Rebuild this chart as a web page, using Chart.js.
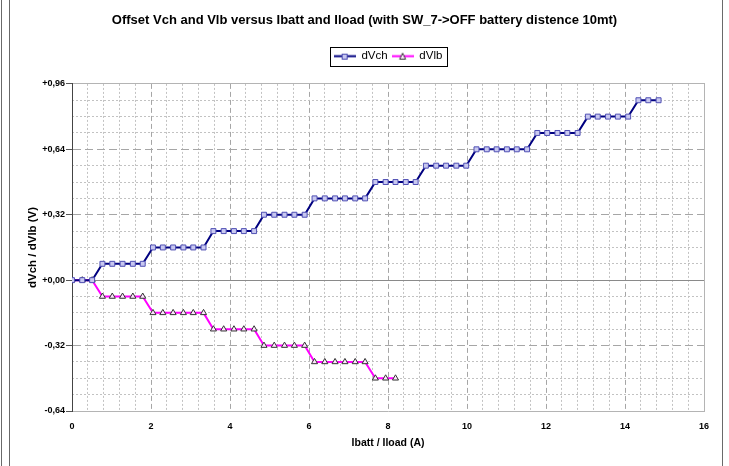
<!DOCTYPE html>
<html>
<head>
<meta charset="utf-8">
<script src="https://cdn.jsdelivr.net/npm/chart.js@4.4.1/dist/chart.umd.min.js"></script>
<style>
html,body{margin:0;padding:0;background:#fff;}
#wrap{position:relative;width:729px;height:466px;overflow:hidden;}
canvas{display:block;}
.vl{position:absolute;top:0;height:466px;width:1px;background:#6a6a6a;}
</style>
</head>
<body>
<div id="wrap">
<canvas id="c" width="729" height="466"></canvas>
<div class="vl" style="left:1px"></div>
<div class="vl" style="left:9px"></div>
<div class="vl" style="left:722px"></div>
</div>
<script>
// ---- data ----
const chartTitle = 'Offset Vch and Vlb versus Ibatt and Iload (with SW_7->OFF battery distence 10mt)';
const xTitle = 'Ibatt / Iload (A)';
const yTitle = 'dVch / dVlb (V)';
const seriesNames = ['dVch', 'dVlb'];

const currents = [
  0.00, 0.26, 0.51, 0.77, 1.02, 1.28, 1.54, 1.79, 2.05, 2.30,
  2.56, 2.82, 3.07, 3.33, 3.58, 3.84, 4.10, 4.35, 4.61, 4.86,
  5.12, 5.38, 5.63, 5.89, 6.14, 6.40, 6.66, 6.91, 7.17, 7.42,
  7.68, 7.94, 8.19, 8.45, 8.70, 8.96, 9.22, 9.47, 9.73, 9.98,
  10.24, 10.50, 10.75, 11.01, 11.26, 11.52, 11.78, 12.03, 12.29, 12.54,
  12.80, 13.06, 13.31, 13.57, 13.82, 14.08, 14.34, 14.59, 14.85
];
const dVch = [
  0.00, 0.00, 0.00, 0.08, 0.08, 0.08, 0.08, 0.08, 0.16, 0.16,
  0.16, 0.16, 0.16, 0.16, 0.24, 0.24, 0.24, 0.24, 0.24, 0.32,
  0.32, 0.32, 0.32, 0.32, 0.40, 0.40, 0.40, 0.40, 0.40, 0.40,
  0.48, 0.48, 0.48, 0.48, 0.48, 0.56, 0.56, 0.56, 0.56, 0.56,
  0.64, 0.64, 0.64, 0.64, 0.64, 0.64, 0.72, 0.72, 0.72, 0.72,
  0.72, 0.80, 0.80, 0.80, 0.80, 0.80, 0.88, 0.88, 0.88
];
const dVlb = [
  0.00, 0.00, 0.00, -0.08, -0.08, -0.08, -0.08, -0.08, -0.16, -0.16,
  -0.16, -0.16, -0.16, -0.16, -0.24, -0.24, -0.24, -0.24, -0.24, -0.32,
  -0.32, -0.32, -0.32, -0.32, -0.40, -0.40, -0.40, -0.40, -0.40, -0.40,
  -0.48, -0.48, -0.48
];
const xTickValues = [0, 2, 4, 6, 8, 10, 12, 14, 16];
const xTickLabels = ['0', '2', '4', '6', '8', '10', '12', '14', '16'];
const yTickValues = [-0.64, -0.32, 0, 0.32, 0.64, 0.96];
const yTickLabels = ['-0,64', '-0,32', '+0,00', '+0,32', '+0,64', '+0,96'];
const xMinorStep = 0.4;
const yMinorStep = 0.08;

// ---- helpers ----
const FONT = "'Liberation Sans', Arial, Helvetica, sans-serif";
const near = (a, b) => Math.abs(a - b) < 1e-6;
const isMult = (v, s) => Math.abs(v / s - Math.round(v / s)) < 1e-6;
const X_MIN = 0, X_MAX = 16, Y_MIN = -0.64, Y_MAX = 0.96;

function stepTicks(min, max, step) {
  const t = [];
  const n = Math.round((max - min) / step);
  for (let k = 0; k <= n; k++) t.push({ value: +(min + k * step).toFixed(6) });
  return t;
}

function makeIcon(lineColor, shape, mStroke, mFill) {
  const c = document.createElement('canvas');
  c.width = 22; c.height = 9;
  const g = c.getContext('2d');
  g.strokeStyle = lineColor; g.lineWidth = 2;
  g.beginPath(); g.moveTo(0, 4.5); g.lineTo(22, 4.5); g.stroke();
  g.lineWidth = 1; g.strokeStyle = mStroke; g.fillStyle = mFill;
  if (shape === 'rect') {
    g.fillRect(8.5, 2.5, 5, 5); g.strokeRect(8.5, 2.5, 5, 5);
  } else {
    g.beginPath(); g.moveTo(11, 1.5); g.lineTo(14, 7.5); g.lineTo(8, 7.5); g.closePath(); g.fill(); g.stroke();
  }
  return c;
}
const legendIcons = [
  makeIcon('#000080', 'rect', '#4a4ab0', '#c8c8f0'),
  makeIcon('#ff00ff', 'tri', '#333333', '#ffe6ff')
];

const legendFrame = {
  id: 'legendFrame',
  afterDraw(chart) {
    const lg = chart.legend;
    if (!lg || !lg.legendHitBoxes || !lg.legendHitBoxes.length) return;
    let l = Infinity, r = -Infinity, t = Infinity, b = -Infinity;
    lg.legendHitBoxes.forEach(h => {
      l = Math.min(l, h.left); r = Math.max(r, h.left + h.width);
      t = Math.min(t, h.top); b = Math.max(b, h.top + h.height);
    });
    const ctx = chart.ctx;
    ctx.save();
    ctx.strokeStyle = '#000'; ctx.lineWidth = 1;
    const x0 = Math.round(l - 4) + 0.5, y0 = Math.round(t - 3.5) + 0.5;
    const x1 = Math.round(r + 5) + 0.5, y1 = Math.round(b + 4) + 0.5;
    ctx.strokeRect(x0, y0, x1 - x0, y1 - y0);
    ctx.restore();
  }
};

const gridOnly = (extra) => Object.assign({
  type: 'linear', display: true,
  ticks: { display: false },
  title: { display: false },
  border: { display: false }
}, extra);

new Chart(document.getElementById('c'), {
  type: 'line',
  data: {
    datasets: [
      {
        label: seriesNames[0],
        data: dVch.map((v, i) => ({ x: currents[i], y: v })),
        borderColor: '#000080', borderWidth: 2, tension: 0,
        pointStyle: 'rect', pointRadius: 3.5,
        pointBorderColor: '#5050b4', pointBackgroundColor: '#c8c8f0', pointBorderWidth: 1
      },
      {
        label: seriesNames[1],
        data: dVlb.map((v, i) => ({ x: currents[i], y: v })),
        borderColor: '#ff00ff', borderWidth: 2, tension: 0,
        pointStyle: 'triangle', pointRadius: 3.5,
        pointBorderColor: '#333333', pointBackgroundColor: '#ffe6ff', pointBorderWidth: 1
      }
    ]
  },
  options: {
    responsive: false,
    animation: false,
    events: [],
    layout: { padding: { left: 0, right: 0, top: 0, bottom: 0 } },
    plugins: {
      tooltip: { enabled: false },
      title: {
        display: true, text: chartTitle, color: '#000',
        font: { family: FONT, size: 13, weight: 'bold' },
        padding: { top: 12.5, bottom: 18.3 }
      },
      legend: {
        display: true, position: 'top', fullSize: false,
        labels: {
          usePointStyle: true, pointStyleWidth: 22, padding: 4,
          color: '#000', font: { family: FONT, size: 11.5 },
          generateLabels: chart => chart.data.datasets.map((ds, i) => ({
            text: ds.label, pointStyle: legendIcons[i], fillStyle: 'rgba(0,0,0,0)',
            strokeStyle: 'rgba(0,0,0,0)', lineWidth: 0, hidden: false, datasetIndex: i, fontColor: '#000'
          }))
        }
      }
    },
    scales: {
      x: {
        type: 'linear', position: 'bottom', min: X_MIN, max: X_MAX,
        afterBuildTicks: s => { s.ticks = xTickValues.map(v => ({ value: v })); },
        afterFit: s => { s.height = 55; },
        ticks: {
          callback: (v, i) => xTickLabels[i], color: '#000', padding: 10,
          font: { family: FONT, size: 9, weight: 'bold' }, maxRotation: 0, autoSkip: false
        },
        grid: {
          color: c => (c.tick && (near(c.tick.value, X_MIN) || near(c.tick.value, X_MAX))) ? 'rgba(0,0,0,0)' : '#a6a6a6',
          lineWidth: 1, drawTicks: false
        },
        border: { display: true, color: '#b4b4b4', width: 1, dash: [5, 3] },
        title: {
          display: true, text: xTitle, color: '#000',
          font: { family: FONT, size: 10.5, weight: 'bold' },
          padding: { top: 0, bottom: 17 }
        }
      },
      xMinor: gridOnly({
        position: 'bottom', min: X_MIN, max: X_MAX,
        afterBuildTicks: s => { s.ticks = stepTicks(X_MIN, X_MAX, xMinorStep); },
        afterFit: s => { s.height = 0; },
        grid: {
          drawTicks: false, lineWidth: 1,
          color: c => (c.tick && (isMult(c.tick.value, 2) )) ? 'rgba(0,0,0,0)' : '#c2c2c2'
        },
        border: { display: false, dash: [2, 2] }
      }),
      xTop: gridOnly({
        position: 'top', min: X_MIN, max: X_MAX,
        afterFit: s => { s.height = 12; },
        grid: { display: false },
        border: { display: true, color: '#b4b4b4', width: 1 }
      }),
      y: {
        type: 'linear', position: 'left', min: Y_MIN, max: Y_MAX,
        afterBuildTicks: s => { s.ticks = yTickValues.map(v => ({ value: v })); },
        afterFit: s => { s.width = 72; },
        ticks: {
          callback: (v, i) => yTickLabels[i], color: '#000', padding: 1,
          font: { family: FONT, size: 9, weight: 'bold' }
        },
        grid: {
          color: c => (c.tick && (near(c.tick.value, 0) || near(c.tick.value, Y_MIN) || near(c.tick.value, Y_MAX))) ? 'rgba(0,0,0,0)' : '#a6a6a6',
          lineWidth: 1, drawTicks: true, tickLength: 6, tickColor: '#555555'
        },
        border: { display: true, color: '#444444', width: 1, dash: [8, 4] },
        title: {
          display: true, text: yTitle, color: '#000',
          font: { family: FONT, size: 11.5, weight: 'bold' },
          padding: { top: 26, bottom: 0 }
        }
      },
      yMinor: gridOnly({
        position: 'left', min: Y_MIN, max: Y_MAX,
        afterBuildTicks: s => { s.ticks = stepTicks(Y_MIN, Y_MAX, yMinorStep); },
        afterFit: s => { s.width = 0; },
        grid: {
          drawTicks: false, lineWidth: 1,
          color: c => (c.tick && isMult(c.tick.value, 0.32)) ? 'rgba(0,0,0,0)' : '#c2c2c2'
        },
        border: { display: false, dash: [2, 2] }
      }),
      yZero: gridOnly({
        position: 'left', min: Y_MIN, max: Y_MAX,
        afterBuildTicks: s => { s.ticks = [{ value: 0 }]; },
        afterFit: s => { s.width = 0; },
        grid: { drawTicks: false, lineWidth: 1, color: '#8a8a8a' },
        border: { display: false }
      }),
      yRight: gridOnly({
        position: 'right', min: Y_MIN, max: Y_MAX,
        afterFit: s => { s.width = 25; },
        grid: { display: false },
        border: { display: true, color: '#b4b4b4', width: 1 }
      })
    }
  },
  plugins: [legendFrame]
});
</script>
</body>
</html>
